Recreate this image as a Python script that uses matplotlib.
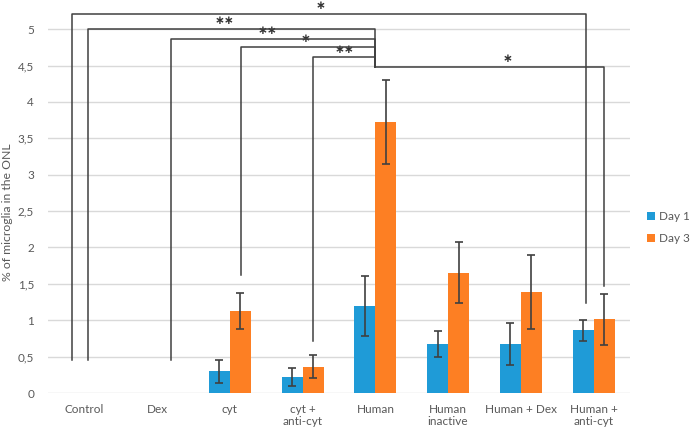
"""Microglia in the ONL: grouped bars (Day 1 / Day 3) with significance brackets."""

import matplotlib
matplotlib.use("Agg")
import matplotlib.pyplot as plt
import numpy as np
from matplotlib.ticker import FuncFormatter

categories = ["Control", "Dex", "cyt", "cyt +\nanti-cyt", "Human",
              "Human\ninactive", "Human + Dex", "Human +\nanti-cyt"]
day1 = [0, 0, 0.30, 0.22, 1.20, 0.67, 0.67, 0.86]
day1_err = [0, 0, 0.16, 0.13, 0.41, 0.18, 0.29, 0.14]
day3 = [0, 0, 1.13, 0.36, 3.72, 1.65, 1.39, 1.01]
day3_err = [0, 0, 0.25, 0.16, 0.58, 0.42, 0.51, 0.35]

# brackets: (left x in category units, left foot y, right x, right foot y, top y, label)
brackets = [
    (-0.17, 0.46, 6.90, 1.24, 5.21, "*"),
    (0.05, 0.46, 4.00, 4.48, 5.00, "**"),
    (1.19, 0.46, 4.00, 4.48, 4.87, "**"),
    (2.15, 1.62, 4.00, 4.48, 4.75, "*"),
    (3.14, 0.72, 4.00, 4.48, 4.61, "**"),
    (4.00, 4.48, 7.14, 1.47, 4.48, "*"),
]
star_x = [3.24, 1.92, 2.52, 3.04, 3.58, 5.82]

BLUE = "#1f9bd7"
ORANGE = "#fd7f23"
GREY_TXT = "#595959"
plt.rcParams["font.family"] = ["Lato", "DejaVu Sans"]

fig = plt.figure(figsize=(6.92, 4.34), dpi=100)
ax = fig.add_axes([48 / 692, 41 / 434, 582 / 692, 393 / 434])

x = np.arange(len(categories))
w = 0.29
err_kw = dict(ecolor="#404040", elinewidth=1.2, capsize=3, capthick=1.2)
ax.bar(x - w / 2, day1, w, color=BLUE, label="Day 1", zorder=2)
ax.bar(x + w / 2, day3, w, color=ORANGE, label="Day 3", zorder=2)
has = np.array(day1) > 0
ax.errorbar((x - w / 2)[has], np.array(day1)[has], yerr=np.array(day1_err)[has],
            fmt="none", zorder=3, **err_kw)
ax.errorbar((x + w / 2)[has], np.array(day3)[has], yerr=np.array(day3_err)[has],
            fmt="none", zorder=3, **err_kw)

line_kw = dict(color="#404040", lw=1.1, clip_on=False, zorder=4)
for (xl, yl, xr, yr, top, lab), sx in zip(brackets, star_x):
    ax.plot([xl, xl, xr, xr], [yl, top, top, yr], **line_kw)
    ax.text(sx, top + 0.04, lab.replace("*", "\u2217"), ha="center", va="bottom",
            fontsize=8.5, color="#333333", fontweight="bold")

ax.set_xlim(-0.5, len(categories) - 0.5)
ax.set_ylim(0, 5.40)
ax.set_yticks(np.arange(0, 5.01, 0.5))
ax.yaxis.set_major_formatter(FuncFormatter(lambda v, _: f"{v:g}".replace(".", ",")))
ax.set_xticks(x)
ax.set_xticklabels(categories, linespacing=1.15)
ax.tick_params(length=0, labelsize=8.5, labelcolor=GREY_TXT)
ax.tick_params(axis="x", pad=8)
ax.tick_params(axis="y", pad=10)
for v in np.arange(0, 5.01, 0.5):
    ax.axhline(v, color="#d9d9d9", lw=1, zorder=0)
for s in ax.spines.values():
    s.set_visible(False)
fig.text(8 / 692, 1 - 212 / 434, "% of microglia in the ONL", rotation=90,
         ha="center", va="center", fontsize=8.8, color=GREY_TXT)

fig.legend(loc="center left", bbox_to_anchor=(647 / 692, 1 - 227.5 / 434),
           frameon=False, borderaxespad=0, borderpad=0,
           fontsize=8.5, labelcolor=GREY_TXT, handlelength=0.7, handleheight=0.7,
           handletextpad=0.35, labelspacing=0.9)

fig.savefig("out.png", dpi=100)
